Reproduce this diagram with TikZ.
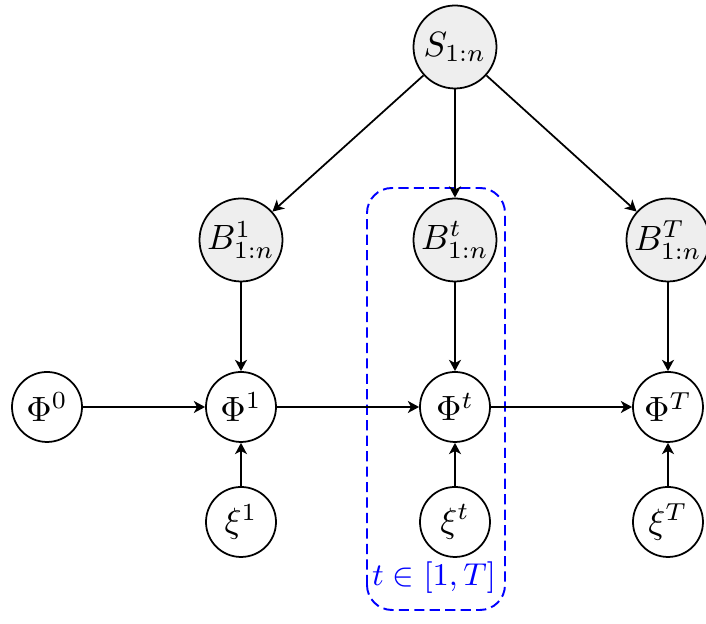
\documentclass[tikz,border=0pt]{standalone}
\usepackage{amssymb}
\usetikzlibrary{arrows.meta, positioning}

\begin{document}
\begin{tikzpicture}[
	font=\normalsize,
	line width=0.5pt,
	>={Stealth[length=3.2pt,width=3.4pt,inset=0.9pt]},
	var/.style={
		draw,
		circle,
		minimum size=7mm,
		inner sep=0pt,
		fill=white
	},
	obs/.style={
		var,
		minimum size=8.3mm,
		fill=gray!13
	},
	plate/.style={
		draw=blue,
		line width=0.55pt,
		dash pattern=on 2.9pt off 1.5pt,
		rounded corners=2.5mm
	}
	]
	\useasboundingbox (0,0) rectangle (7.06,6.24);

	% top node
	\node[obs] (S) at (4.55,5.77) {$S_{1:n}$};

	% observed blocks
	\node[obs] (B1) at (2.41,3.84) {$B^{1}_{1:n}$};
	\node[obs] (Bt) at (4.55,3.84) {$B^{t}_{1:n}$};
	\node[obs] (BT) at (6.68,3.84) {$B^{T}_{1:n}$};

	% state chain
	\node[var] (P0) at (0.47,2.17) {$\Phi^{0}$};
	\node[var] (P1) at (2.41,2.17) {$\Phi^{1}$};
	\node[var] (Pt) at (4.55,2.17) {$\Phi^{t}$};
	\node[var] (PT) at (6.68,2.17) {$\Phi^{T}$};

	% noise
	\node[var] (x1) at (2.41,1.02) {$\xi^{1}$};
	\node[var] (xt) at (4.55,1.02) {$\xi^{t}$};
	\node[var] (xT) at (6.68,1.02) {$\xi^{T}$};

	% plate over t
	\draw[plate] (3.67,0.14) rectangle (5.05,4.36);
	\node[blue, font=\small] (lab) at (4.34,0.46) {$t\in[1,T]$};

	\draw[->] (S) -- (B1);
	\draw[->] (S) -- (Bt);
	\draw[->] (S) -- (BT);

	\draw[->] (B1) -- (P1);
	\draw[->] (Bt) -- (Pt);
	\draw[->] (BT) -- (PT);

	\draw[->] (P0) -- (P1);
	\draw[->] (P1) -- (Pt);
	\draw[->] (Pt) -- (PT);

	\draw[->] (x1) -- (P1);
	\draw[->] (xt) -- (Pt);
	\draw[->] (xT) -- (PT);
\end{tikzpicture}
\end{document}
